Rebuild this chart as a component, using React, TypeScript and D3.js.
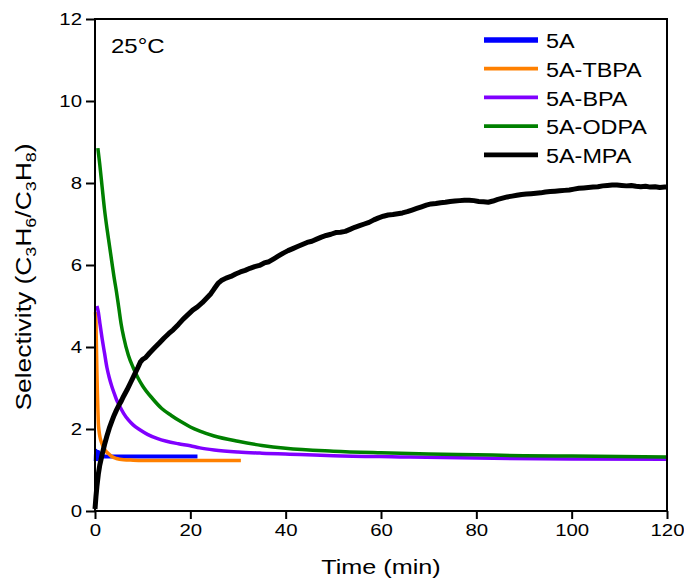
import { useEffect, useRef } from 'react'
import * as d3 from 'd3'

type Pt = [number, number]

const SERIES_NAMES = ['5A', '5A-TBPA', '5A-BPA', '5A-ODPA', '5A-MPA']
const X_TICKS = [0, 20, 40, 60, 80, 100, 120]
const Y_TICKS = [0, 2, 4, 6, 8, 10, 12]

// time (min), selectivity
const S_5A: Pt[] = [[0.15,1.22],[0.25,1.47],[0.45,1.26],[0.7,1.44],[1,1.35],[1.5,1.33],[2,1.33],[5,1.33],[10,1.33],[15,1.33],[21.5,1.33]]
const S_TBPA: Pt[] = [[0.1,4.85],[0.2,4.6],[0.3,4.0],[0.4,3.4],[0.5,2.9],[0.6,2.5],[0.7,2.15],[0.85,1.95],[1.05,1.8],[1.4,1.66],[1.75,1.56],[2.2,1.47],[2.8,1.4],[3.5,1.33],[4.5,1.28],[6,1.25],[8,1.24],[12,1.23],[20,1.23],[30.6,1.23]]
const S_BPA: Pt[] = [[0.4,5.0],[0.7,4.85],[1,4.6],[1.5,4.2],[2,3.85],[2.5,3.5],[3,3.25],[3.5,3.05],[4,2.88],[4.5,2.72],[5,2.6],[6,2.38],[7,2.22],[8,2.1],[9.4,1.98],[11,1.87],[13,1.77],[15,1.7],[17.5,1.64],[20,1.59],[22,1.54],[25,1.49],[30,1.44],[35,1.41],[43,1.38],[50,1.35],[64,1.32],[80,1.29],[100,1.27],[120,1.26]]
const S_ODPA: Pt[] = [[0.6,8.85],[1,8.45],[1.5,7.9],[2,7.35],[2.5,6.9],[3,6.5],[3.5,6.1],[4,5.7],[4.5,5.35],[5,4.95],[5.5,4.55],[6,4.25],[7,3.8],[8,3.5],[9,3.25],[10,3.05],[12,2.75],[14,2.5],[16,2.33],[18,2.18],[20,2.05],[22,1.95],[25,1.83],[30,1.7],[35,1.6],[40,1.53],[50,1.46],[60,1.42],[70,1.39],[80,1.37],[90,1.35],[100,1.34],[110,1.33],[120,1.32]]
const S_MPA: Pt[] = [[0,0.05],[0.2,0.35],[0.4,0.6],[0.7,0.9],[1,1.12],[1.5,1.38],[2,1.62],[2.5,1.83],[3,2.02],[3.5,2.18],[4,2.33],[4.5,2.46],[5,2.58],[5.5,2.68],[6,2.8],[6.7,2.95],[7.5,3.14],[8.3,3.33],[9,3.5],[9.5,3.63],[10,3.7],[10.6,3.74],[11.5,3.86],[12.5,3.98],[13.5,4.1],[14.5,4.22],[15.5,4.33],[16.4,4.42],[17.5,4.55],[18.5,4.68],[19.5,4.79],[20.5,4.9],[21.5,4.98],[22.5,5.08],[23.5,5.2],[24.3,5.3],[25,5.42],[25.8,5.55],[26.5,5.62],[27.5,5.68],[28.5,5.72],[29.5,5.78],[30.5,5.83],[31.5,5.87],[32.5,5.92],[33.5,5.96],[34.5,5.99],[35.5,6.05],[36.5,6.08],[37.5,6.15],[38.5,6.22],[39.5,6.29],[40.5,6.35],[41.5,6.4],[42.5,6.45],[43.5,6.5],[44.5,6.55],[45.5,6.58],[46.5,6.63],[47.5,6.68],[48.5,6.72],[49.5,6.75],[50.5,6.79],[51.5,6.8],[52.5,6.82],[53.5,6.87],[54.5,6.92],[55.5,6.96],[56.5,7.0],[57.5,7.04],[58.5,7.1],[59.5,7.15],[60.5,7.19],[61.5,7.22],[62.5,7.23],[63.5,7.25],[64.5,7.27],[65.5,7.3],[66.5,7.34],[67.5,7.38],[68.5,7.42],[69.5,7.46],[70.5,7.49],[71.5,7.5],[72.5,7.52],[73.5,7.53],[74.5,7.55],[75.5,7.56],[76.5,7.57],[77.5,7.58],[78.5,7.58],[79.5,7.57],[80.5,7.55],[81.5,7.54],[82.5,7.53],[83.5,7.56],[84.5,7.6],[85.5,7.63],[86.5,7.66],[87.5,7.68],[88.5,7.7],[89.5,7.72],[90.5,7.73],[91.5,7.74],[92.5,7.75],[93.5,7.76],[94.5,7.78],[95.5,7.79],[96.5,7.8],[97.5,7.81],[98.5,7.82],[99.5,7.83],[100.5,7.85],[101.5,7.87],[102.5,7.88],[103.5,7.89],[104.5,7.9],[105.5,7.91],[106.5,7.93],[107.5,7.94],[108.5,7.95],[109.5,7.95],[110.5,7.94],[111.5,7.93],[112.5,7.94],[113.5,7.92],[114.5,7.91],[115.5,7.92],[116.5,7.9],[117.5,7.91],[118.5,7.89],[119.5,7.9],[120,7.9]]

const SERIES = [S_5A, S_TBPA, S_BPA, S_ODPA, S_MPA]
const COLORS = ['#0000ff', '#ff8000', '#8000ff', '#008000', '#000000']
const WIDTHS = [4, 3.5, 3.5, 3.5, 5]
const LEG_WIDTHS = [5.3, 3.7, 3.7, 3.7, 4.7]

const FONT = 'Liberation Sans, Arial, sans-serif'
const SX = 1.2 // the original font runs wider than Liberation Sans

export default function App() {
  const ref = useRef<SVGSVGElement | null>(null)
  useEffect(() => {
    if (!ref.current) return
    const W = 684, H = 579
    const m = { l: 95, r: 667, t: 19, b: 511 }
    const svg = d3.select(ref.current)
    svg.selectAll('*').remove()
    svg.append('rect').attr('width', W).attr('height', H).attr('fill', '#fff')

    const x = d3.scaleLinear().domain([0, 120]).range([m.l, m.r])
    const y = d3.scaleLinear().domain([0, 12]).range([m.b, m.t])

    const wide = (px: number, py: number, rot = 0) =>
      `translate(${px},${py})${rot ? ` rotate(${rot})` : ''} scale(${SX},1)`

    // series
    const line = d3.line<Pt>().x(d => x(d[0])).y(d => y(d[1]))
    SERIES.forEach((s, i) => {
      svg.append('path')
        .attr('d', line.curve(i === 4 ? d3.curveLinear : d3.curveMonotoneX)(s) as string)
        .attr('fill', 'none').attr('stroke', COLORS[i]).attr('stroke-width', WIDTHS[i])
        .attr('stroke-linejoin', 'round')
    })

    // frame
    svg.append('rect').attr('x', m.l).attr('y', m.t).attr('width', m.r - m.l).attr('height', m.b - m.t)
      .attr('fill', 'none').attr('stroke', '#000').attr('stroke-width', 2)

    // ticks
    const gx = svg.append('g').attr('transform', `translate(0,${m.b})`)
    gx.call(d3.axisBottom(x).tickValues(d3.range(10, 120, 20)).tickSize(5).tickFormat(() => ''))
    gx.call(d3.axisBottom(x).tickValues(X_TICKS).tickSize(8).tickPadding(5).tickFormat(d3.format('d')))
    const gy = svg.append('g').attr('transform', `translate(${m.l},0)`)
    gy.call(d3.axisLeft(y).tickValues(d3.range(1, 12, 2)).tickSize(5).tickFormat(() => ''))
    gy.call(d3.axisLeft(y).tickValues(Y_TICKS).tickSize(9).tickPadding(5).tickFormat(d3.format('d')))
    svg.selectAll('.domain').remove()
    svg.selectAll('.tick line').attr('stroke', '#000').attr('stroke-width', 2)
    svg.selectAll('.tick text').attr('font-family', FONT).attr('font-size', 17).attr('fill', '#000')
    gx.selectAll('.tick text').attr('y', 0).attr('transform', `translate(0,13) scale(${SX},1)`)
    gy.selectAll('.tick text').attr('x', 0).attr('transform', `translate(-13,0) scale(${SX},1)`)

    // axis titles
    svg.append('text').attr('transform', wide((m.l + m.r) / 2, 574)).attr('text-anchor', 'middle')
      .attr('font-family', FONT).attr('font-size', 21).text('Time (min)')
    const yt = svg.append('text').attr('transform', wide(31, 277, -90)).attr('text-anchor', 'middle')
      .attr('font-family', FONT).attr('font-size', 22)
    const parts: [string, boolean][] = [['Selectivity (C', false], ['3', true], ['H', false], ['6', true], ['/C', false], ['3', true], ['H', false], ['8', true], [')', false]]
    parts.forEach(([t, sub], k) => {
      const ts = yt.append('tspan').text(t)
      if (sub) ts.attr('font-size', 15).attr('dy', 5)
      else if (k > 0) ts.attr('dy', -5)
    })

    // annotation
    svg.append('text').attr('transform', wide(111, 53)).attr('font-family', FONT).attr('font-size', 20).text('25°C')

    // legend
    const lg = svg.append('g')
    SERIES_NAMES.forEach((n, i) => {
      const yy = 40 + i * 28.7
      lg.append('line').attr('x1', 484).attr('x2', 538).attr('y1', yy).attr('y2', yy)
        .attr('stroke', COLORS[i]).attr('stroke-width', LEG_WIDTHS[i])
      lg.append('text').attr('transform', wide(546, yy + 8.3)).attr('font-family', FONT).attr('font-size', 19.5).text(n)
    })
  }, [])
  return <svg ref={ref} width={684} height={579} style={{ position: 'absolute', left: 0, top: 0 }} />
}
